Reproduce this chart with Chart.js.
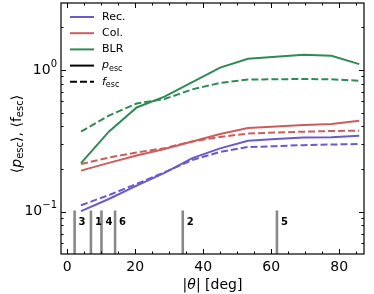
<!DOCTYPE html>
<html><head><meta charset="utf-8">
<script src="https://cdn.jsdelivr.net/npm/chart.js@4/dist/chart.umd.min.js"></script>
<style>html,body{margin:0;padding:0;background:#fff}#wrap{width:374px;height:294px}</style>
</head><body><div id="wrap"><canvas id="c"></canvas></div>
<script>
// bin centres of |theta| (deg)
const theta = [4.09, 12.27, 20.45, 28.64, 36.82, 45.0, 53.18, 61.36, 69.55, 77.73, 85.91];
const recP = [0.101, 0.123, 0.153, 0.188, 0.239, 0.280, 0.317, 0.326, 0.334, 0.335, 0.344];
const recF = [0.111, 0.131, 0.157, 0.190, 0.232, 0.264, 0.286, 0.290, 0.295, 0.298, 0.300];
const colP = [0.195, 0.221, 0.249, 0.277, 0.313, 0.353, 0.390, 0.400, 0.409, 0.416, 0.439];
const colF = [0.217, 0.241, 0.262, 0.281, 0.313, 0.337, 0.356, 0.362, 0.367, 0.371, 0.373];
const blrP = [0.220, 0.367, 0.544, 0.649, 0.820, 1.04, 1.20, 1.24, 1.28, 1.26, 1.10];
const blrF = [0.368, 0.477, 0.580, 0.624, 0.730, 0.810, 0.857, 0.860, 0.864, 0.860, 0.840];
// marked source angles
const markAngles = [2.2, 7.0, 10.1, 14.1, 34.0, 61.7];
const markLabels = ['3', '1', '4', '6', '2', '5'];
const markTop = 0.102;
const xTicks = [0, 20, 40, 60, 80];
const yTicks = [0.1, 1];

const cRec = '#6a5acd', cCol = '#cd5c5c', cBlr = '#2e8b57';
const FONT = '"DejaVu Sans", sans-serif';

function pts(ys){ return theta.map((x,i)=>({x:x, y:ys[i]})); }
function line(ys, color, dashed){
  return {data: pts(ys), borderColor: color, borderWidth: 2, pointRadius: 0,
    borderDash: dashed ? [7,3] : [], fill: false, tension: 0};
}

let datasets = [];
markAngles.forEach(a=>{
  datasets.push({data:[{x:a,y:0.01},{x:a,y:markTop}], borderColor:'#888888', borderWidth:2.6, pointRadius:0});
});
datasets.push(line(recP, cRec, false), line(recF, cRec, true));
datasets.push(line(colP, cCol, false), line(colF, cCol, true));
datasets.push(line(blrP, cBlr, false), line(blrF, cBlr, true));

// draw a row of text pieces: [text, font, dy]
function rich(ctx, parts, x, y, align){
  let w = 0;
  parts.forEach(p=>{ ctx.font = p[1]; w += ctx.measureText(p[0]).width; });
  let cx = align==='right' ? x - w : align==='center' ? x - w/2 : x;
  parts.forEach(p=>{ ctx.font = p[1]; ctx.fillText(p[0], cx, y + (p[2]||0)); cx += ctx.measureText(p[0]).width; });
}

const decor = {
  id: 'decor',
  afterDraw(chart){
    const ctx = chart.ctx, a = chart.chartArea;
    const xs = chart.scales.x, ys = chart.scales.y;
    ctx.save();
    ctx.fillStyle = '#000'; ctx.strokeStyle = '#000';
    // marker labels
    ctx.textBaseline = 'middle'; ctx.textAlign = 'left';
    ctx.font = 'bold 10px ' + FONT;
    markAngles.forEach((m,i)=>{
      ctx.fillText(markLabels[i], xs.getPixelForValue(m) + 4, 222);
    });
    // frame
    ctx.lineWidth = 1.2;
    ctx.strokeRect(a.left, a.top, a.right - a.left, a.bottom - a.top);
    // x ticks
    ctx.lineWidth = 1;
    for(let v = 0; v <= 85; v += 5){
      const px = Math.round(xs.getPixelForValue(v)) + 0.5;
      const L = v % 20 === 0 ? 5 : 2.5;
      ctx.beginPath();
      ctx.moveTo(px, a.bottom); ctx.lineTo(px, a.bottom - L);
      ctx.moveTo(px, a.top); ctx.lineTo(px, a.top + L);
      ctx.stroke();
    }
    // y ticks
    const minors = [0.06,0.07,0.08,0.09,0.2,0.3,0.4,0.5,0.6,0.7,0.8,0.9,2];
    const drawY = (v,L)=>{
      const py = Math.round(ys.getPixelForValue(v)) + 0.5;
      ctx.beginPath();
      ctx.moveTo(a.left, py); ctx.lineTo(a.left + L, py);
      ctx.moveTo(a.right, py); ctx.lineTo(a.right - L, py);
      ctx.stroke();
    };
    yTicks.forEach(v=>drawY(v,5));
    minors.forEach(v=>drawY(v,2.5));
    // x tick labels
    ctx.textAlign = 'center'; ctx.textBaseline = 'middle';
    ctx.font = '14px ' + FONT;
    xTicks.forEach(v=> ctx.fillText(String(v), xs.getPixelForValue(v), 267));
    // y tick labels
    ctx.textAlign = 'left';
    yTicks.forEach(v=>{
      const e = Math.round(Math.log10(v));
      rich(ctx, [['10','14px '+FONT,0], [e<0 ? '\u2212'+(-e) : String(e), '10px '+FONT, -6]], 57, ys.getPixelForValue(v), 'right');
    });
    // x label
    rich(ctx, [['|','14px '+FONT,0], ['\u03b8','italic 14px '+FONT,0], ['| [deg]','14px '+FONT,0]], (a.left+a.right)/2, 285, 'center');
    // y label
    ctx.save();
    ctx.translate(17, 134);
    ctx.rotate(-Math.PI/2);
    rich(ctx, [['\u27e8','14px '+FONT,0], ['p','italic 14px '+FONT,0], ['esc','10px '+FONT,3],
      ['\u27e9, \u27e8','14px '+FONT,0], ['f','14px '+FONT,0], ['esc','10px '+FONT,3], ['\u27e9','14px '+FONT,0]], 0, 0, 'center');
    ctx.restore();
    // legend
    const rows = [
      [cRec, [], [['Rec.','11px '+FONT,0]]],
      [cCol, [], [['Col.','11px '+FONT,0]]],
      [cBlr, [], [['BLR','11px '+FONT,0]]],
      ['#000', [], [['p','italic 11px '+FONT,0], ['esc','8px '+FONT,3]]],
      ['#000', [7,3], [['f','italic 11px '+FONT,0], ['esc','8px '+FONT,3]]]
    ];
    ctx.textAlign = 'left'; ctx.textBaseline = 'middle';
    rows.forEach((r,i)=>{
      const y = 17 + i*16.2;
      ctx.strokeStyle = r[0]; ctx.lineWidth = 2; ctx.setLineDash(r[1]);
      ctx.beginPath(); ctx.moveTo(70, y); ctx.lineTo(94, y); ctx.stroke();
      ctx.setLineDash([]);
      ctx.fillStyle = '#000';
      rich(ctx, r[2], 102, y, 'left');
    });
    ctx.restore();
  }
};

new Chart(document.getElementById('c'), {
  type: 'line',
  data: {datasets: datasets},
  options: {
    responsive: true, maintainAspectRatio: false, animation: false,
    layout: {padding: {left: 61, top: 3, right: 10, bottom: 40}},
    plugins: {legend: {display: false}, tooltip: {enabled: false}},
    scales: {
      x: {type: 'linear', min: -1.8, max: 87.3, display: false},
      y: {type: 'logarithmic', min: 0.0503, max: 2.97, display: false}
    }
  },
  plugins: [decor]
});
</script></body></html>
